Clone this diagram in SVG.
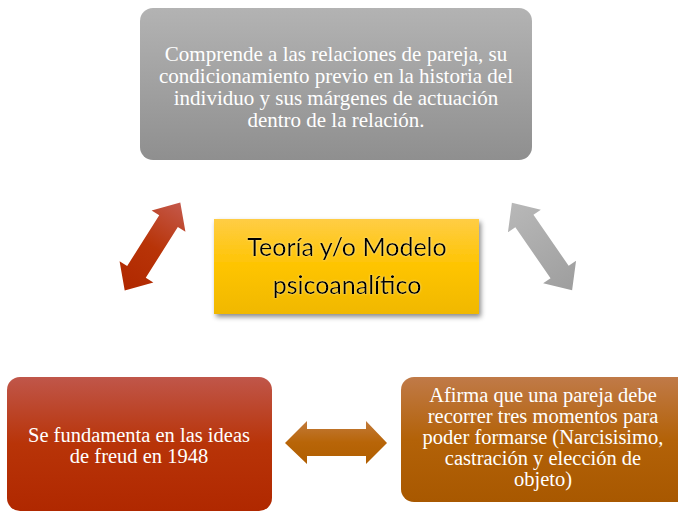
<svg xmlns="http://www.w3.org/2000/svg" width="678" height="512" viewBox="0 0 678 512">
  <defs>
    <linearGradient id="gGray" x1="0" y1="0" x2="0" y2="1">
      <stop offset="0" stop-color="#b3b3b3"/>
      <stop offset="1" stop-color="#8f8f8f"/>
    </linearGradient>
    <linearGradient id="gGold" x1="0" y1="0" x2="0" y2="1">
      <stop offset="0" stop-color="#ffcd45"/>
      <stop offset="0.5" stop-color="#fec400"/>
      <stop offset="1" stop-color="#f0b800"/>
    </linearGradient>
    <linearGradient id="gRed" x1="0" y1="0" x2="0" y2="1">
      <stop offset="0" stop-color="#c0564a"/>
      <stop offset="0.5" stop-color="#b83408"/>
      <stop offset="1" stop-color="#b02800"/>
    </linearGradient>
    <linearGradient id="gOrange" x1="0" y1="0" x2="0" y2="1">
      <stop offset="0" stop-color="#c07a48"/>
      <stop offset="0.5" stop-color="#b36208"/>
      <stop offset="1" stop-color="#a85800"/>
    </linearGradient>
    <linearGradient id="gArrRed" x1="0" y1="0" x2="1" y2="0">
      <stop offset="0" stop-color="#b02800"/>
      <stop offset="0.5" stop-color="#b83408"/>
      <stop offset="1" stop-color="#c4584a"/>
    </linearGradient>
    <linearGradient id="gArrGray" x1="0" y1="0" x2="1" y2="0">
      <stop offset="0" stop-color="#b8b8b8"/>
      <stop offset="1" stop-color="#9e9e9e"/>
    </linearGradient>
    <linearGradient id="gArrOrange" x1="0" y1="0" x2="0" y2="1">
      <stop offset="0" stop-color="#c27a3a"/>
      <stop offset="0.5" stop-color="#b86508"/>
      <stop offset="1" stop-color="#b05e00"/>
    </linearGradient>
    <filter id="shadow" x="-10%" y="-10%" width="125%" height="130%">
      <feDropShadow dx="2" dy="3" stdDeviation="2.5" flood-color="#000" flood-opacity="0.45"/>
    </filter>
    <filter id="glow" x="-5%" y="-20%" width="110%" height="140%">
      <feDropShadow dx="0" dy="0" stdDeviation="1" flood-color="#fff3c0" flood-opacity="0.7"/>
    </filter>
  </defs>
  <style>
    .serif { font-family: "Liberation Serif", "Times New Roman", serif; font-size: 21px; fill: #ffffff; text-anchor: middle; }
    .sm { font-size: 20.5px; }
    .sans { font-family: Lato, "Noto Sans", "Liberation Sans", sans-serif; font-size: 25px; fill: #000000; text-anchor: middle; }
  </style>
  <rect width="678" height="512" fill="#ffffff"/>

  <g id="connectors">
    <polygon transform="translate(152.5,246.5) rotate(-57.7)" fill="url(#gArrRed)"
      points="-52,0 -30,-20 -30,-11 30,-11 30,-20 52,0 30,20 30,11 -30,11 -30,20"/>
    <polygon transform="translate(542,246.5) rotate(55.4)" fill="url(#gArrGray)"
      points="-53,0 -31,-20 -31,-11 31,-11 31,-20 53,0 31,20 31,11 -31,11 -31,20"/>
    <polygon fill="url(#gArrOrange)"
      points="285,443 307,421 307,429 366,429 366,421 387,443 366,464 366,456 307,456 307,464"/>
  </g>

  <g id="node-top">
    <rect x="140" y="8" width="392" height="152" rx="13" fill="url(#gGray)"/>
    <text class="serif" x="336" y="61">Comprende a las relaciones de pareja, su</text>
    <text class="serif" x="336" y="83">condicionamiento previo en la historia del</text>
    <text class="serif" x="336" y="105">individuo y sus márgenes de actuación</text>
    <text class="serif" x="336" y="127">dentro de la relación.</text>
  </g>

  <g id="node-center">
    <rect x="214" y="219" width="265" height="95" fill="url(#gGold)" filter="url(#shadow)"/>
    <g filter="url(#glow)">
      <text class="sans" x="347" y="256">Teoría y/o Modelo</text>
      <text class="sans" x="347" y="294">psicoanalítico</text>
    </g>
  </g>

  <g id="node-left">
    <rect x="7" y="377" width="265" height="134" rx="13" fill="url(#gRed)"/>
    <text class="serif sm" x="139" y="442">Se fundamenta en las ideas</text>
    <text class="serif sm" x="139" y="463">de freud en 1948</text>
  </g>

  <g id="node-right">
    <rect x="401" y="377" width="290" height="125" rx="13" fill="url(#gOrange)"/>
    <text class="serif sm" x="543" y="402"> Afirma que una pareja debe</text>
    <text class="serif sm" x="543" y="423">recorrer tres momentos para</text>
    <text class="serif sm" x="543" y="444">poder formarse (Narcisisimo,</text>
    <text class="serif sm" x="543" y="465">castración y elección de</text>
    <text class="serif sm" x="543" y="486">objeto)</text>
  </g>
</svg>
